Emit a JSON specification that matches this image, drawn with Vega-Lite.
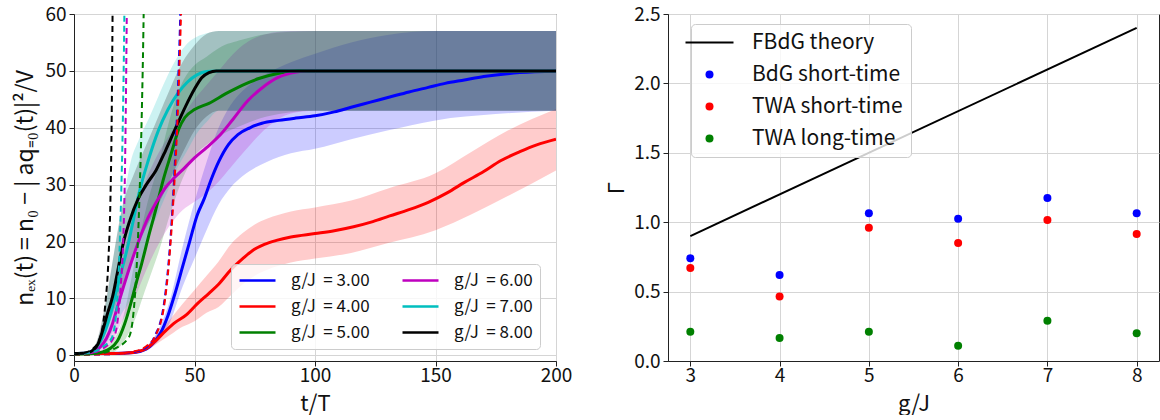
{
  "$schema": "https://vega.github.io/schema/vega-lite/v6.json",
  "padding": {"left": 14, "top": 4, "right": 0, "bottom": 0},
  "spacing": 32,
  "config": {
    "font": "Noto Sans CJK JP",
    "view": {"stroke": "#222", "strokeWidth": 1},
    "axis": {"labelFontSize": 19, "titleFontSize": 22, "titleFontWeight": "normal", "labelColor": "#111", "titleColor": "#111", "tickColor": "#222", "domainColor": "#222", "tickSize": 5, "labelPadding": 3, "gridColor": "#d5d5d5", "gridWidth": 1, "labelFlush": false, "labelOverlap": false, "labelFont": "Noto Sans CJK JP", "titleFont": "Noto Sans CJK JP"},
    "legend": {"labelFont": "Noto Sans CJK JP", "labelColor": "#111"}
  },
  "datasets": {
    "mean": [
      {"g":3,"t":0,"v":0.3},{"g":3,"t":15,"v":0.3},{"g":3,"t":25,"v":0.5},{"g":3,"t":30,"v":1.1},{"g":3,"t":33,"v":2.2},{"g":3,"t":36,"v":4},{"g":3,"t":39,"v":7},{"g":3,"t":42,"v":11},{"g":3,"t":45,"v":15.5},{"g":3,"t":48,"v":20},{"g":3,"t":51,"v":24.5},{"g":3,"t":54,"v":27.5},{"g":3,"t":57,"v":31},{"g":3,"t":60,"v":34},{"g":3,"t":64,"v":37},{"g":3,"t":68,"v":38.8},{"g":3,"t":73,"v":40},{"g":3,"t":78,"v":40.8},{"g":3,"t":85,"v":41.3},{"g":3,"t":92,"v":41.7},{"g":3,"t":100,"v":42.1},{"g":3,"t":108,"v":42.8},{"g":3,"t":115,"v":43.6},{"g":3,"t":123,"v":44.5},{"g":3,"t":131,"v":45.4},{"g":3,"t":139,"v":46.3},{"g":3,"t":147,"v":47.1},{"g":3,"t":154,"v":47.8},{"g":3,"t":162,"v":48.4},{"g":3,"t":170,"v":49},{"g":3,"t":185,"v":49.7},{"g":3,"t":200,"v":50},
      {"g":4,"t":0,"v":0.3},{"g":4,"t":15,"v":0.3},{"g":4,"t":22,"v":0.4},{"g":4,"t":26,"v":0.6},{"g":4,"t":30,"v":1.2},{"g":4,"t":34,"v":2.6},{"g":4,"t":38,"v":4.3},{"g":4,"t":42,"v":5.8},{"g":4,"t":46.6,"v":7.1},{"g":4,"t":51,"v":9},{"g":4,"t":56,"v":10.9},{"g":4,"t":60,"v":12.5},{"g":4,"t":65,"v":15},{"g":4,"t":70,"v":17},{"g":4,"t":74,"v":18.4},{"g":4,"t":79,"v":19.5},{"g":4,"t":84,"v":20.2},{"g":4,"t":90,"v":20.8},{"g":4,"t":100,"v":21.4},{"g":4,"t":108,"v":21.9},{"g":4,"t":116,"v":22.6},{"g":4,"t":124,"v":23.5},{"g":4,"t":131,"v":24.5},{"g":4,"t":139,"v":25.6},{"g":4,"t":147,"v":26.9},{"g":4,"t":155,"v":28.6},{"g":4,"t":162,"v":30.4},{"g":4,"t":170,"v":32.3},{"g":4,"t":177,"v":34.2},{"g":4,"t":185,"v":35.8},{"g":4,"t":192,"v":37},{"g":4,"t":200,"v":38},
      {"g":5,"t":0,"v":0.2},{"g":5,"t":8,"v":0.3},{"g":5,"t":12,"v":0.6},{"g":5,"t":15,"v":1.2},{"g":5,"t":18,"v":2.5},{"g":5,"t":21,"v":5.5},{"g":5,"t":23.5,"v":9},{"g":5,"t":26,"v":13},{"g":5,"t":28,"v":16},{"g":5,"t":31,"v":21},{"g":5,"t":34,"v":25.7},{"g":5,"t":37,"v":30.8},{"g":5,"t":40.5,"v":35.7},{"g":5,"t":43.5,"v":39.8},{"g":5,"t":46,"v":41.8},{"g":5,"t":50,"v":43.2},{"g":5,"t":56,"v":44.3},{"g":5,"t":63,"v":46},{"g":5,"t":70,"v":47.5},{"g":5,"t":77,"v":48.7},{"g":5,"t":85,"v":49.6},{"g":5,"t":93,"v":50},{"g":5,"t":200,"v":50},
      {"g":6,"t":0,"v":0.3},{"g":6,"t":6,"v":0.4},{"g":6,"t":9,"v":0.8},{"g":6,"t":11,"v":1.5},{"g":6,"t":13.5,"v":3},{"g":6,"t":16,"v":5.6},{"g":6,"t":18,"v":8.5},{"g":6,"t":20.5,"v":12},{"g":6,"t":23.5,"v":16},{"g":6,"t":26.6,"v":19.8},{"g":6,"t":30,"v":23.5},{"g":6,"t":34,"v":26.8},{"g":6,"t":38,"v":29.5},{"g":6,"t":41.6,"v":31.2},{"g":6,"t":46,"v":33},{"g":6,"t":50,"v":34.7},{"g":6,"t":55,"v":36.5},{"g":6,"t":61,"v":38.9},{"g":6,"t":66,"v":41.5},{"g":6,"t":72,"v":44.7},{"g":6,"t":78,"v":47},{"g":6,"t":84.5,"v":48.8},{"g":6,"t":90,"v":49.6},{"g":6,"t":97,"v":50},{"g":6,"t":200,"v":50},
      {"g":7,"t":0,"v":0.3},{"g":7,"t":5,"v":0.4},{"g":7,"t":8,"v":0.9},{"g":7,"t":11,"v":2.5},{"g":7,"t":13,"v":4.4},{"g":7,"t":15,"v":7},{"g":7,"t":17,"v":10.3},{"g":7,"t":19.5,"v":14.5},{"g":7,"t":22,"v":18.6},{"g":7,"t":24.5,"v":23.5},{"g":7,"t":27,"v":28.5},{"g":7,"t":31,"v":34.5},{"g":7,"t":35,"v":39.5},{"g":7,"t":39,"v":43.2},{"g":7,"t":43,"v":46},{"g":7,"t":47,"v":48},{"g":7,"t":51,"v":49.3},{"g":7,"t":55,"v":49.9},{"g":7,"t":60,"v":50},{"g":7,"t":200,"v":50},
      {"g":8,"t":0,"v":0.3},{"g":8,"t":5,"v":0.4},{"g":8,"t":8,"v":0.9},{"g":8,"t":10,"v":2},{"g":8,"t":12,"v":4.5},{"g":8,"t":14,"v":7.5},{"g":8,"t":16,"v":10.3},{"g":8,"t":18,"v":14.5},{"g":8,"t":20.5,"v":19.8},{"g":8,"t":23,"v":23.5},{"g":8,"t":26.6,"v":27.5},{"g":8,"t":30,"v":30},{"g":8,"t":34,"v":32.5},{"g":8,"t":38,"v":36},{"g":8,"t":42,"v":39.8},{"g":8,"t":46,"v":43.5},{"g":8,"t":50,"v":46.8},{"g":8,"t":53,"v":48.8},{"g":8,"t":56,"v":49.7},{"g":8,"t":59,"v":50},{"g":8,"t":200,"v":50}
    ],
    "bands": [
      {"g":3,"t":25,"lo":0.3,"hi":0.8},{"g":3,"t":30,"lo":0.8,"hi":1.6},{"g":3,"t":35,"lo":2.5,"hi":4.5},{"g":3,"t":40,"lo":6,"hi":10},{"g":3,"t":45,"lo":12,"hi":19},{"g":3,"t":50,"lo":17,"hi":27},{"g":3,"t":55,"lo":22,"hi":34},{"g":3,"t":60,"lo":26.5,"hi":40},{"g":3,"t":65,"lo":29.5,"hi":44},{"g":3,"t":70,"lo":31.5,"hi":46.5},{"g":3,"t":80,"lo":34,"hi":49.5},{"g":3,"t":90,"lo":35.5,"hi":51.5},{"g":3,"t":100,"lo":36.3,"hi":53},{"g":3,"t":115,"lo":38,"hi":55},{"g":3,"t":130,"lo":39.5,"hi":56.3},{"g":3,"t":150,"lo":41.3,"hi":57},{"g":3,"t":175,"lo":42.4,"hi":57},{"g":3,"t":200,"lo":43,"hi":57},
      {"g":4,"t":25,"lo":0.3,"hi":0.8},{"g":4,"t":30,"lo":0.8,"hi":1.6},{"g":4,"t":35,"lo":2.2,"hi":4},{"g":4,"t":40,"lo":3.6,"hi":6.4},{"g":4,"t":45,"lo":5,"hi":9},{"g":4,"t":50,"lo":6,"hi":11.5},{"g":4,"t":55,"lo":7.5,"hi":14},{"g":4,"t":60,"lo":8.5,"hi":16.5},{"g":4,"t":65,"lo":10.5,"hi":19.5},{"g":4,"t":70,"lo":12.5,"hi":21.5},{"g":4,"t":75,"lo":14,"hi":23},{"g":4,"t":80,"lo":15,"hi":24},{"g":4,"t":90,"lo":16.3,"hi":25.3},{"g":4,"t":100,"lo":17,"hi":26},{"g":4,"t":115,"lo":18,"hi":27.2},{"g":4,"t":130,"lo":19.7,"hi":29.3},{"g":4,"t":150,"lo":22,"hi":32},{"g":4,"t":165,"lo":24.8,"hi":35.8},{"g":4,"t":180,"lo":28,"hi":39.5},{"g":4,"t":200,"lo":32.5,"hi":43.3},
      {"g":5,"t":12,"lo":0.3,"hi":1},{"g":5,"t":16,"lo":0.5,"hi":2.5},{"g":5,"t":20,"lo":2,"hi":6},{"g":5,"t":25,"lo":6,"hi":16},{"g":5,"t":30,"lo":12,"hi":26},{"g":5,"t":35,"lo":18,"hi":33.5},{"g":5,"t":40,"lo":25,"hi":42},{"g":5,"t":45,"lo":31,"hi":48},{"g":5,"t":50,"lo":35,"hi":51},{"g":5,"t":55,"lo":37,"hi":52.5},{"g":5,"t":60,"lo":38.5,"hi":54},{"g":5,"t":70,"lo":40.5,"hi":55.5},{"g":5,"t":80,"lo":42,"hi":56.5},{"g":5,"t":100,"lo":43,"hi":57},{"g":5,"t":200,"lo":43,"hi":57},
      {"g":6,"t":8,"lo":0.2,"hi":0.6},{"g":6,"t":12,"lo":0.8,"hi":3},{"g":6,"t":16,"lo":2.5,"hi":9},{"g":6,"t":20,"lo":6,"hi":17},{"g":6,"t":25,"lo":10,"hi":25},{"g":6,"t":30,"lo":15,"hi":31},{"g":6,"t":35,"lo":19.5,"hi":35.5},{"g":6,"t":40,"lo":23,"hi":39},{"g":6,"t":45,"lo":25.5,"hi":42},{"g":6,"t":50,"lo":27,"hi":45},{"g":6,"t":55,"lo":28.5,"hi":47.5},{"g":6,"t":60,"lo":30.5,"hi":50},{"g":6,"t":65,"lo":33,"hi":52.5},{"g":6,"t":70,"lo":35.5,"hi":54.5},{"g":6,"t":80,"lo":40,"hi":56.5},{"g":6,"t":90,"lo":42.5,"hi":57},{"g":6,"t":100,"lo":43,"hi":57},{"g":6,"t":200,"lo":43,"hi":57},
      {"g":7,"t":8,"lo":0.2,"hi":0.9},{"g":7,"t":11,"lo":1,"hi":4.5},{"g":7,"t":14,"lo":2.5,"hi":11},{"g":7,"t":17,"lo":5,"hi":19},{"g":7,"t":20,"lo":7.5,"hi":26},{"g":7,"t":23.5,"lo":10,"hi":34},{"g":7,"t":27,"lo":15.5,"hi":38},{"g":7,"t":31,"lo":21,"hi":41.6},{"g":7,"t":35,"lo":25,"hi":45.5},{"g":7,"t":39,"lo":29,"hi":49.3},{"g":7,"t":43,"lo":33,"hi":52.5},{"g":7,"t":47,"lo":36,"hi":54.8},{"g":7,"t":51,"lo":39,"hi":56},{"g":7,"t":55,"lo":41,"hi":56.6},{"g":7,"t":60,"lo":43,"hi":57},{"g":7,"t":200,"lo":43,"hi":57},
      {"g":8,"t":6,"lo":0.2,"hi":0.7},{"g":8,"t":9,"lo":0.5,"hi":2},{"g":8,"t":12,"lo":2.5,"hi":7},{"g":8,"t":15,"lo":6,"hi":14},{"g":8,"t":20,"lo":12,"hi":26},{"g":8,"t":25,"lo":18,"hi":32},{"g":8,"t":30,"lo":22.5,"hi":37},{"g":8,"t":35,"lo":26.5,"hi":42},{"g":8,"t":40,"lo":31,"hi":47},{"g":8,"t":45,"lo":35.5,"hi":51.5},{"g":8,"t":50,"lo":39.5,"hi":54.5},{"g":8,"t":55,"lo":42,"hi":56.5},{"g":8,"t":60,"lo":43,"hi":57},{"g":8,"t":200,"lo":43,"hi":57}
    ],
    "dash": [
      {"g":3,"t":0,"v":0.1},{"g":3,"t":15,"v":0.2},{"g":3,"t":25,"v":0.6},{"g":3,"t":30,"v":1.4},{"g":3,"t":33.3,"v":3.2},{"g":3,"t":37.3,"v":9},{"g":3,"t":41,"v":27},{"g":3,"t":42.7,"v":42},{"g":3,"t":44.1,"v":60},{"g":3,"t":45.2,"v":80},
      {"g":4,"t":0,"v":0.1},{"g":4,"t":15,"v":0.2},{"g":4,"t":25,"v":0.7},{"g":4,"t":30,"v":1.6},{"g":4,"t":33.5,"v":3.2},{"g":4,"t":37.5,"v":9},{"g":4,"t":41.2,"v":27},{"g":4,"t":43,"v":42},{"g":4,"t":44.4,"v":60},{"g":4,"t":45.5,"v":80},
      {"g":5,"t":0,"v":0.1},{"g":5,"t":10,"v":0.3},{"g":5,"t":16,"v":1},{"g":5,"t":22.8,"v":3.2},{"g":5,"t":25.2,"v":10},{"g":5,"t":27.1,"v":27},{"g":5,"t":28.1,"v":42},{"g":5,"t":28.9,"v":60},{"g":5,"t":29.6,"v":85},
      {"g":6,"t":0,"v":0.2},{"g":6,"t":8,"v":0.5},{"g":6,"t":12,"v":1.2},{"g":6,"t":16.6,"v":3.2},{"g":6,"t":19,"v":10},{"g":6,"t":20.9,"v":27},{"g":6,"t":21.4,"v":40},{"g":6,"t":21.9,"v":60},{"g":6,"t":22.4,"v":85},
      {"g":7,"t":0,"v":0.2},{"g":7,"t":8,"v":0.6},{"g":7,"t":12,"v":1.5},{"g":7,"t":15.8,"v":3.2},{"g":7,"t":17.8,"v":9},{"g":7,"t":19.5,"v":27},{"g":7,"t":20.3,"v":42},{"g":7,"t":20.9,"v":60},{"g":7,"t":21.4,"v":85},
      {"g":8,"t":0,"v":0.2},{"g":8,"t":5,"v":0.5},{"g":8,"t":8,"v":1.2},{"g":8,"t":10.9,"v":3.2},{"g":8,"t":13,"v":9},{"g":8,"t":14.3,"v":17},{"g":8,"t":15.1,"v":27},{"g":8,"t":15.6,"v":40},{"g":8,"t":16,"v":60},{"g":8,"t":16.4,"v":85}
    ],
    "theory": [
      {"x":3,"G":0.9,"s":"FBdG theory"},{"x":8,"G":2.4,"s":"FBdG theory"}
    ],
    "pts": [
      {"x":3,"G":0.74,"s":"BdG short-time"},{"x":4,"G":0.62,"s":"BdG short-time"},{"x":5,"G":1.065,"s":"BdG short-time"},{"x":6,"G":1.025,"s":"BdG short-time"},{"x":7,"G":1.175,"s":"BdG short-time"},{"x":8,"G":1.065,"s":"BdG short-time"},
      {"x":3,"G":0.67,"s":"TWA short-time"},{"x":4,"G":0.465,"s":"TWA short-time"},{"x":5,"G":0.96,"s":"TWA short-time"},{"x":6,"G":0.85,"s":"TWA short-time"},{"x":7,"G":1.015,"s":"TWA short-time"},{"x":8,"G":0.915,"s":"TWA short-time"},
      {"x":3,"G":0.21,"s":"TWA long-time"},{"x":4,"G":0.165,"s":"TWA long-time"},{"x":5,"G":0.21,"s":"TWA long-time"},{"x":6,"G":0.11,"s":"TWA long-time"},{"x":7,"G":0.29,"s":"TWA long-time"},{"x":8,"G":0.2,"s":"TWA long-time"}
    ]
  },
  "hconcat": [
    {
      "width": 482,
      "height": 347,
      "layer": [
        {
          "data": {"name": "bands"},
          "mark": {"type": "area", "opacity": 0.2, "interpolate": "monotone", "clip": true},
          "encoding": {
            "x": {"field": "t", "type": "quantitative", "scale": {"domain": [0, 200], "nice": false}, "axis": {"values": [0, 50, 100, 150, 200], "format": "d", "title": "t/T", "labelPadding": 0, "titlePadding": 8}},
            "y": {"field": "lo", "type": "quantitative", "scale": {"domain": [-1, 60], "nice": false, "zero": false}, "axis": {"values": [0, 10, 20, 30, 40, 50, 60], "format": "d", "title": "nₑₓ(t) =  n₀ − | aq₌₀(t)|²/V", "titleFontSize": 23, "titlePadding": 7}},
            "y2": {"field": "hi"},
            "color": {"field": "g", "type": "nominal", "scale": {"domain": [3, 4, 5, 6, 7, 8], "range": ["#0000ff", "#ff0000", "#008000", "#bf00bf", "#00bfbf", "#000000"]},
              "legend": {"orient": "none", "legendX": 157, "legendY": 250, "columns": 2, "title": null, "symbolType": "stroke", "symbolSize": 1296, "symbolStrokeWidth": 2.5, "symbolOpacity": 1, "symbolDash": [1, 0], "labelFontSize": 17, "labelOffset": 14, "columnPadding": 31, "rowPadding": 7, "clipHeight": 19, "padding": 7, "fillColor": "rgba(255,255,255,0.8)", "strokeColor": "#cccccc", "cornerRadius": 4, "labelExpr": "'g/J\u00a0 = ' + format(datum.value, '.2f')"}}
          }
        },
        {
          "data": {"name": "mean"},
          "mark": {"type": "line", "strokeWidth": 3, "interpolate": "monotone", "clip": true},
          "encoding": {
            "x": {"field": "t", "type": "quantitative", "scale": {"domain": [0, 200], "nice": false}, "axis": {"values": [0, 50, 100, 150, 200], "format": "d", "title": "t/T", "labelPadding": 0, "titlePadding": 8}},
            "y": {"field": "v", "type": "quantitative", "scale": {"domain": [-1, 60], "nice": false, "zero": false}, "axis": {"values": [0, 10, 20, 30, 40, 50, 60], "format": "d", "title": "nₑₓ(t) =  n₀ − | aq₌₀(t)|²/V", "titleFontSize": 23, "titlePadding": 7}},
            "color": {"field": "g", "type": "nominal", "scale": {"domain": [3, 4, 5, 6, 7, 8], "range": ["#0000ff", "#ff0000", "#008000", "#bf00bf", "#00bfbf", "#000000"]},
              "legend": {"orient": "none", "legendX": 157, "legendY": 250, "columns": 2, "title": null, "symbolType": "stroke", "symbolSize": 1296, "symbolStrokeWidth": 2.5, "symbolOpacity": 1, "symbolDash": [1, 0], "labelFontSize": 17, "labelOffset": 14, "columnPadding": 31, "rowPadding": 7, "clipHeight": 19, "padding": 7, "fillColor": "rgba(255,255,255,0.8)", "strokeColor": "#cccccc", "cornerRadius": 4, "labelExpr": "'g/J\u00a0 = ' + format(datum.value, '.2f')"}}
          }
        },
        {
          "data": {"name": "dash"},
          "mark": {"type": "line", "strokeWidth": 2, "strokeDash": [6, 4], "interpolate": "monotone", "clip": true},
          "encoding": {
            "x": {"field": "t", "type": "quantitative", "scale": {"domain": [0, 200], "nice": false}, "axis": {"values": [0, 50, 100, 150, 200], "format": "d", "title": "t/T", "labelPadding": 0, "titlePadding": 8}},
            "y": {"field": "v", "type": "quantitative", "scale": {"domain": [-1, 60], "nice": false, "zero": false}, "axis": {"values": [0, 10, 20, 30, 40, 50, 60], "format": "d", "title": "nₑₓ(t) =  n₀ − | aq₌₀(t)|²/V", "titleFontSize": 23, "titlePadding": 7}},
            "color": {"field": "g", "type": "nominal", "scale": {"domain": [3, 4, 5, 6, 7, 8], "range": ["#0000ff", "#ff0000", "#008000", "#bf00bf", "#00bfbf", "#000000"]},
              "legend": {"orient": "none", "legendX": 157, "legendY": 250, "columns": 2, "title": null, "symbolType": "stroke", "symbolSize": 1296, "symbolStrokeWidth": 2.5, "symbolOpacity": 1, "symbolDash": [1, 0], "labelFontSize": 17, "labelOffset": 14, "columnPadding": 31, "rowPadding": 7, "clipHeight": 19, "padding": 7, "fillColor": "rgba(255,255,255,0.8)", "strokeColor": "#cccccc", "cornerRadius": 4, "labelExpr": "'g/J\u00a0 = ' + format(datum.value, '.2f')"}}
          }
        }
      ]
    },
    {
      "width": 491,
      "height": 347,
      "layer": [
        {
          "data": {"name": "theory"},
          "mark": {"type": "line", "strokeWidth": 2},
          "encoding": {
            "x": {"field": "x", "type": "quantitative", "scale": {"domain": [2.75, 8.25], "nice": false, "zero": false}, "axis": {"values": [3, 4, 5, 6, 7, 8], "format": "d", "title": "g/J", "labelPadding": 0, "titlePadding": 8}},
            "y": {"field": "G", "type": "quantitative", "scale": {"domain": [0, 2.5], "nice": false}, "axis": {"values": [0, 0.5, 1, 1.5, 2, 2.5], "format": ".1f", "title": "Γ", "titlePadding": 5}},
            "color": {"field": "s", "type": "nominal", "scale": {"domain": ["FBdG theory", "BdG short-time", "TWA short-time", "TWA long-time"], "range": ["#000000", "#0000ff", "#ff0000", "#008000"]},
              "legend": {"orient": "none", "legendX": 23, "legendY": 10, "title": null, "symbolSize": 2304, "symbolType": "stroke", "symbolStrokeWidth": 2, "symbolOpacity": 1, "labelFontSize": 21, "labelOffset": 32, "rowPadding": 10, "padding": 8, "fillColor": "rgba(255,255,255,0.8)", "strokeColor": "#cccccc", "cornerRadius": 4,
                "encode": {"symbols": {"update": {
                  "shape": {"signal": "datum.value === 'FBdG theory' ? 'stroke' : 'circle'"},
                  "size": {"signal": "datum.value === 'FBdG theory' ? 2304 : 64"},
                  "strokeWidth": {"signal": "datum.value === 'FBdG theory' ? 2 : 0"},
                  "stroke": {"signal": "datum.value === 'FBdG theory' ? '#000000' : 'transparent'"},
                  "fill": {"signal": "datum.value === 'BdG short-time' ? '#0000ff' : datum.value === 'TWA short-time' ? '#ff0000' : datum.value === 'TWA long-time' ? '#008000' : 'transparent'"},
                  "opacity": {"value": 1}
                }}}}}
          }
        },
        {
          "data": {"name": "pts"},
          "mark": {"type": "point", "filled": true, "size": 64, "opacity": 1},
          "encoding": {
            "x": {"field": "x", "type": "quantitative", "scale": {"domain": [2.75, 8.25], "nice": false, "zero": false}, "axis": {"values": [3, 4, 5, 6, 7, 8], "format": "d", "title": "g/J", "labelPadding": 0, "titlePadding": 8}},
            "y": {"field": "G", "type": "quantitative", "scale": {"domain": [0, 2.5], "nice": false}, "axis": {"values": [0, 0.5, 1, 1.5, 2, 2.5], "format": ".1f", "title": "Γ", "titlePadding": 5}},
            "color": {"field": "s", "type": "nominal", "scale": {"domain": ["FBdG theory", "BdG short-time", "TWA short-time", "TWA long-time"], "range": ["#000000", "#0000ff", "#ff0000", "#008000"]}}
          }
        }
      ]
    }
  ],
  "resolve": {"scale": {"color": "independent", "x": "independent", "y": "independent"}, "legend": {"color": "independent"}}
}
